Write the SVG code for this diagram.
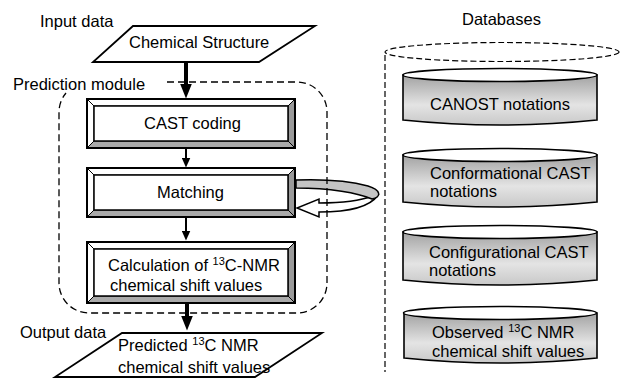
<svg xmlns="http://www.w3.org/2000/svg" width="621" height="378" viewBox="0 0 621 378">
<style>
text{font-family:"Liberation Sans",Arial,sans-serif;font-size:16.5px;fill:#000}
.sup{font-size:11px}
.para{fill:#fff;stroke:#000;stroke-width:1.8}
.outer{fill:none;stroke:#000;stroke-width:2}
.bl{fill:#fff;stroke:#000;stroke-width:1}
.bd{fill:#9a9a9a;stroke:#000;stroke-width:1}
.bb{fill:#aaa;stroke:#000;stroke-width:1}
.inner{fill:#fff;stroke:#000;stroke-width:1.5}
.dash{fill:none;stroke:#000;stroke-width:1.3;stroke-dasharray:7 4}
.ddash{fill:none;stroke:#000;stroke-width:1.2;stroke-dasharray:6 3}
.body{fill:url(#cg);stroke:#000;stroke-width:1.6}
.lid{fill:#fff;stroke:#000;stroke-width:1.6}
.thick{stroke:#000;stroke-width:4;fill:none}
.thin{stroke:#000;stroke-width:2;fill:none}
</style>
<defs>
<linearGradient id="cg" x1="0" y1="0" x2="0" y2="1">
<stop offset="0" stop-color="#a2a2a2"/>
<stop offset="0.6" stop-color="#e4e4e4"/>
<stop offset="1" stop-color="#c8c8c8"/>
</linearGradient>
<marker id="hthick" markerUnits="userSpaceOnUse" markerWidth="16" markerHeight="12" viewBox="0 0 16 12" refX="0.5" refY="6" orient="auto">
<path d="M0,0 L15,6 L0,12 Z" fill="#000"/>
</marker>
<marker id="hthin" markerUnits="userSpaceOnUse" markerWidth="11" markerHeight="9" viewBox="0 0 11 9" refX="0.5" refY="4.5" orient="auto">
<path d="M0,0 L10,4.5 L0,9 Z" fill="#000"/>
</marker>
</defs>
<rect width="621" height="378" fill="#fff"/>

<g id="labels">
<text x="40" y="27">Input data</text>
<text x="13" y="90">Prediction module</text>
<text x="20" y="338">Output data</text>
<text x="462" y="25">Databases</text>
</g>

<g id="connectors">
<line class="thick" x1="186" y1="62" x2="186" y2="84" marker-end="url(#hthick)"/>
<line class="thin" x1="186" y1="148" x2="186" y2="158" marker-end="url(#hthin)"/>
<line class="thin" x1="186" y1="217" x2="186" y2="231" marker-end="url(#hthin)"/>
<line class="thick" x1="187" y1="303" x2="187" y2="316" marker-end="url(#hthick)"/>
<g id="matching-loop">
<path d="M372,196 C360,201 345,203 319,203 L319,199 L297,208 L319,217 L319,212 C350,212 370,207 378,195 Z" fill="#fff" stroke="#000" stroke-width="1.5"/>
<path d="M296,180 C325,179 350,181 368,186 C381,190 382,197 372,199 C358,193 330,188 296,188 Z" fill="#c4c4c4" stroke="#000" stroke-width="1.5"/>
</g>
</g>

<g id="module-frame">
<path class="dash" d="M167,82 L297,82 A30,30 0 0 1 327,112 L327,283 A30,30 0 0 1 297,313 L89,313 A30,30 0 0 1 59,283 L59,112 A30,30 0 0 1 66,93"/>
</g>

<g id="chemical-structure">
<polygon class="para" points="133,26 315,26 259,62 93,62"/>
<text x="129" y="48">Chemical Structure</text>
</g>

<g id="cast-coding">
<polygon class="bl" points="87,99 295,99 288,106 94,106"/>
<polygon class="bl" points="87,99 94,106 94,141 87,148"/>
<polygon class="bd" points="295,99 295,148 288,141 288,106"/>
<polygon class="bb" points="87,148 94,141 288,141 295,148"/>
<rect class="inner" x="94" y="106" width="194" height="35"/>
<rect class="outer" x="87" y="99" width="208" height="49"/>
<text x="144" y="129">CAST coding</text>
</g>

<g id="matching">
<polygon class="bl" points="87,168 295,168 288,175 94,175"/>
<polygon class="bl" points="87,168 94,175 94,210 87,217"/>
<polygon class="bd" points="295,168 295,217 288,210 288,175"/>
<polygon class="bb" points="87,217 94,210 288,210 295,217"/>
<rect class="inner" x="94" y="175" width="194" height="35"/>
<rect class="outer" x="87" y="168" width="208" height="49"/>
<text x="157" y="198">Matching</text>
</g>

<g id="calculation">
<polygon class="bl" points="87,242 295,242 288,249 94,249"/>
<polygon class="bl" points="87,242 94,249 94,296 87,303"/>
<polygon class="bd" points="295,242 295,303 288,296 288,249"/>
<polygon class="bb" points="87,303 94,296 288,296 295,303"/>
<rect class="inner" x="94" y="249" width="194" height="47"/>
<rect class="outer" x="87" y="242" width="208" height="61"/>
<text x="108" y="271">Calculation of <tspan class="sup" dy="-6">13</tspan><tspan dy="6">C-NMR</tspan></text>
<text x="110" y="291">chemical shift values</text>
</g>

<g id="predicted-output">
<polygon class="para" points="122,333 322,333 255,377 55,377"/>
<text x="118" y="351">Predicted <tspan class="sup" dy="-6">13</tspan><tspan dy="6">C NMR</tspan></text>
<text x="118" y="373">chemical shift values</text>
</g>

<g id="databases-frame">
<ellipse class="ddash" cx="502" cy="52" rx="117" ry="9.5"/>
<line class="ddash" x1="385" y1="55" x2="385" y2="372"/>
</g>

<g id="db-canost">
<path class="body" d="M403,75 L403,120 Q500,130 597,120 L597,75 Z"/>
<ellipse class="lid" cx="500" cy="75" rx="97" ry="6.5"/>
<text x="430" y="110">CANOST notations</text>
</g>

<g id="db-conformational">
<path class="body" d="M403,155 L403,202 Q500,212 597,202 L597,155 Z"/>
<ellipse class="lid" cx="500" cy="155" rx="97" ry="6.5"/>
<text x="430" y="179">Conformational CAST</text>
<text x="430" y="197">notations</text>
</g>

<g id="db-configurational">
<path class="body" d="M403,232 L403,280 Q500,290 597,280 L597,232 Z"/>
<ellipse class="lid" cx="500" cy="232" rx="97" ry="6.5"/>
<text x="429" y="258">Configurational CAST</text>
<text x="429" y="276">notations</text>
</g>

<g id="db-observed">
<path class="body" d="M404,313 L404,358 Q500,368 597,358 L597,313 Z"/>
<ellipse class="lid" cx="500" cy="313" rx="96.5" ry="6.5"/>
<text x="432" y="338">Observed <tspan class="sup" dy="-6">13</tspan><tspan dy="6">C NMR</tspan></text>
<text x="432" y="357">chemical shift values</text>
</g>
</svg>
